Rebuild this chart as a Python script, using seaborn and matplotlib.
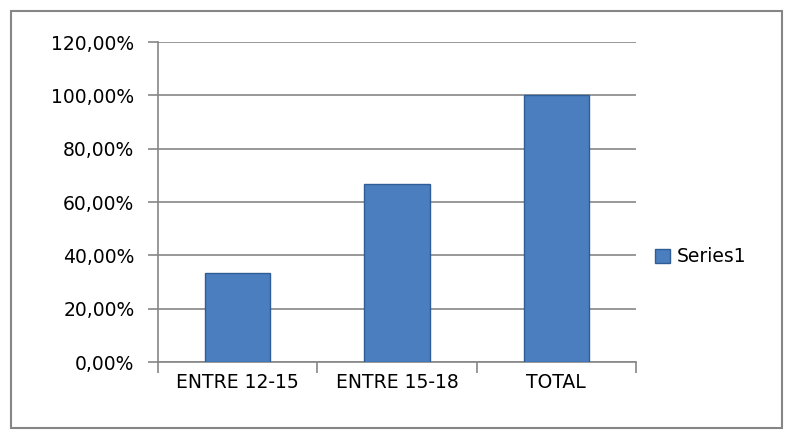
import matplotlib
matplotlib.use("Agg")
import matplotlib.pyplot as plt
import matplotlib.ticker as mticker
from matplotlib.patches import Rectangle, Patch
import pandas as pd
import seaborn as sns

categories = ["ENTRE 12-15", "ENTRE 15-18", "TOTAL"]
values = [33.33, 66.67, 100.0]
series_name = "Series1"

sns.set_style("white")
plt.rcParams["font.family"] = ["DejaVu Sans"]

df = pd.DataFrame({"cat": categories, "val": values})

fig = plt.figure(figsize=(7.93, 4.40), dpi=100)
ax = fig.add_axes([158 / 793, 1 - 362 / 440, (636 - 158) / 793, (362 - 42) / 440])

bar_col = "#4A7EBF"
sns.barplot(data=df, x="cat", y="val", ax=ax, color=bar_col, width=0.41,
            saturation=1, edgecolor="#2F5D96", linewidth=1.0, zorder=3)

ax.set_ylim(0, 120)
ax.set_xlim(-0.5, 2.5)
ax.set_yticks(range(0, 121, 20))
ax.yaxis.set_major_formatter(mticker.FuncFormatter(lambda v, p: f"{v:.2f}%".replace(".", ",")))
ax.grid(axis="y", color="#868686", linewidth=1.2, zorder=0)
ax.set_axisbelow(True)

for s in ["top", "right"]:
    ax.spines[s].set_visible(False)
for s in ["left", "bottom"]:
    ax.spines[s].set_color("#868686")
    ax.spines[s].set_linewidth(1.2)

ax.tick_params(axis="y", left=True, length=7, width=1.2, color="#868686",
               labelsize=13.5, labelcolor="black", pad=10)
ax.set_xticks(range(len(categories)))
ax.set_xticklabels(categories)
ax.tick_params(axis="x", which="major", length=0, labelsize=13.5, labelcolor="black", pad=8)
ax.set_xticks([-0.5, 0.5, 1.5, 2.5], minor=True)
ax.tick_params(axis="x", which="minor", bottom=True, length=8, width=1.2, color="#868686")
ax.set_xlabel("")
ax.set_ylabel("")

handle = Patch(facecolor=bar_col, edgecolor="#2F5D96", label=series_name)
leg = fig.legend(handles=[handle], loc="center left", bbox_to_anchor=(647 / 793, 1 - 257 / 440),
                 frameon=False, fontsize=13.5, handlelength=0.8, handleheight=0.8,
                 handletextpad=0.4, borderaxespad=0)
for t in leg.get_texts():
    t.set_color("black")

fig.patches.append(Rectangle((11 / 793, 1 - 428 / 440), (782 - 11) / 793, (428 - 11) / 440,
                             transform=fig.transFigure, fill=False,
                             edgecolor="#868686", linewidth=1.5))

fig.savefig("out.png", dpi=100)
